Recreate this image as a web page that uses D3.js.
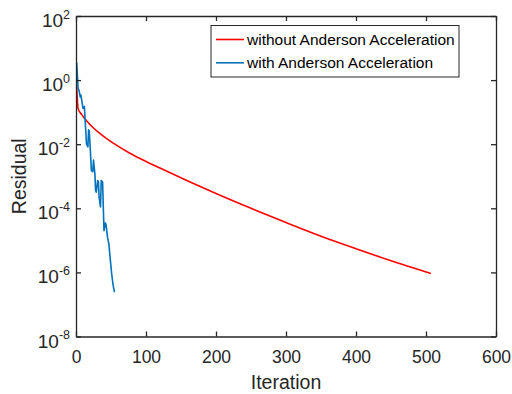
<!DOCTYPE html>
<html>
<head>
<meta charset="utf-8">
<script src="https://cdn.jsdelivr.net/npm/d3@7"></script>
<style>
  body { margin: 0; background: #fff; }
  svg { font-family: "Liberation Sans", Arial, Helvetica, sans-serif; }
</style>
</head>
<body>
<div id="chart"></div>
<script>
// data
const redIter = [1, 3, 8, 15, 25, 39, 55, 77, 100, 120, 163, 200, 250, 300, 350, 400, 450, 507];
const redResidual = [0.62, 0.129, 0.085, 0.054, 0.032, 0.0178, 0.0102, 0.0052, 0.0029, 0.0018,
  6.6e-4, 2.9e-4, 1.0e-4, 3.6e-5, 1.35e-5, 5.5e-6, 2.3e-6, 9.3e-7];

const blueIter = [1, 2, 3, 4, 5, 6, 7, 9, 10, 12, 13, 14, 15, 17, 18, 19, 21, 22, 24, 25, 27, 28,
  29, 31, 32, 33, 35, 36, 38, 39, 40, 42, 43, 45, 47, 49, 51, 53, 55];
const blueResidual = [3.5, 1.4, 0.56, 0.50, 0.40, 0.30, 0.34, 0.18, 0.13, 0.15, 0.056, 0.025, 0.010,
  0.0083, 0.028, 0.025, 0.0040, 0.0015, 0.0014, 0.0032, 0.0012, 3.6e-4, 3.2e-4, 7.4e-4, 6.6e-4,
  2.2e-4, 1.1e-4, 7.4e-4, 6.6e-4, 1.1e-4, 2.0e-5, 3.5e-5, 3.0e-5, 1.26e-5, 7.6e-6, 2.5e-6,
  8.9e-7, 4.0e-7, 2.4e-7];

const xTicks = [0, 100, 200, 300, 400, 500, 600];
const yExponents = [-8, -6, -4, -2, 0, 2];
const seriesNames = ['without Anderson Acceleration', 'with Anderson Acceleration'];
const seriesColors = ['#ff0000', '#0072bd'];

const outerWidth = 512, outerHeight = 394;
const margin = {top: 16, right: 16, bottom: 57.5, left: 76};
const width = outerWidth - margin.left - margin.right;
const height = outerHeight - margin.top - margin.bottom;
const axisColor = '#262626';

const svg = d3.select('#chart')
  .append('svg')
  .attr('width', outerWidth)
  .attr('height', outerHeight);

const g = svg.append('g')
  .attr('transform', 'translate(' + margin.left + ',' + margin.top + ')');

const x = d3.scaleLinear().domain([0, 600]).range([0, width]);
const y = d3.scaleLog().domain([1e-8, 1e2]).range([height, 0]);
const yTicks = yExponents.map(e => Math.pow(10, e));

// lines
const line = d3.line()
  .x(d => x(d[0]))
  .y(d => y(d[1]));

const series = [
  redIter.map((it, i) => [it, redResidual[i]]),
  blueIter.map((it, i) => [it, blueResidual[i]])
];

g.append('g')
  .selectAll('path')
  .data(series)
  .enter()
  .append('path')
  .attr('fill', 'none')
  .attr('stroke', (d, i) => seriesColors[i])
  .attr('stroke-width', 1.6)
  .attr('stroke-linejoin', 'round')
  .attr('d', (d, i) => i === 0 ? line.curve(d3.curveMonotoneX)(d) : line.curve(d3.curveLinear)(d));

// axes (ticks point inward, box all round)
const styleAxis = sel => {
  sel.select('.domain').attr('stroke', axisColor).attr('stroke-width', 1.3);
  sel.selectAll('.tick line').attr('stroke', axisColor).attr('stroke-width', 1.3);
  sel.selectAll('.tick text').attr('fill', axisColor);
};

g.append('g')
  .attr('transform', 'translate(0,' + height + ')')
  .call(d3.axisBottom(x).tickValues(xTicks).tickSizeInner(-5).tickSizeOuter(0).tickPadding(14))
  .attr('font-size', 17.5)
  .attr('font-family', null)
  .call(styleAxis);

g.append('g')
  .call(d3.axisTop(x).tickValues(xTicks).tickSizeInner(-5).tickSizeOuter(0).tickFormat(''))
  .call(styleAxis);

g.append('g')
  .attr('transform', 'translate(' + width + ',0)')
  .call(d3.axisRight(y).tickValues(yTicks).tickSizeInner(-5).tickSizeOuter(0).tickFormat(''))
  .call(styleAxis);

const yAxis = g.append('g')
  .call(d3.axisLeft(y).tickValues(yTicks).tickSizeInner(-5).tickSizeOuter(0).tickFormat(''))
  .attr('font-family', null)
  .call(styleAxis);

yAxis.selectAll('.tick text')
  .attr('x', -6)
  .attr('dy', null)
  .attr('y', 10.5)
  .attr('text-anchor', 'end')
  .each(function(d) {
    const t = d3.select(this);
    t.append('tspan').attr('font-size', 19).text('10');
    t.append('tspan').attr('font-size', 12.5).attr('dy', -8.5)
      .text(Math.round(Math.log10(d)).toString());
  });

// axis labels
svg.append('text')
  .attr('x', margin.left + width / 2)
  .attr('y', 388.5)
  .attr('text-anchor', 'middle')
  .attr('font-size', 19.5)
  .attr('fill', axisColor)
  .text('Iteration');

svg.append('text')
  .attr('transform', 'translate(26,' + (margin.top + height / 2) + ') rotate(-90)')
  .attr('text-anchor', 'middle')
  .attr('font-size', 19.5)
  .attr('fill', axisColor)
  .text('Residual');

// legend
const legend = svg.append('g').attr('transform', 'translate(211,25.5)');

legend.append('rect')
  .attr('width', 248)
  .attr('height', 51.5)
  .attr('fill', '#fff')
  .attr('stroke', axisColor)
  .attr('stroke-width', 1);

legend.selectAll('legendLines')
  .data(seriesNames)
  .enter()
  .append('line')
  .attr('x1', 5)
  .attr('x2', 33)
  .attr('y1', (d, i) => 14 + i * 23.3)
  .attr('y2', (d, i) => 14 + i * 23.3)
  .attr('stroke', (d, i) => seriesColors[i])
  .attr('stroke-width', 1.6);

legend.selectAll('legendLabels')
  .data(seriesNames)
  .enter()
  .append('text')
  .attr('x', 36)
  .attr('y', (d, i) => 14 + i * 23.3)
  .attr('dy', '0.36em')
  .attr('font-size', 15.5)
  .attr('fill', '#000')
  .text(d => d);
</script>
</body>
</html>
